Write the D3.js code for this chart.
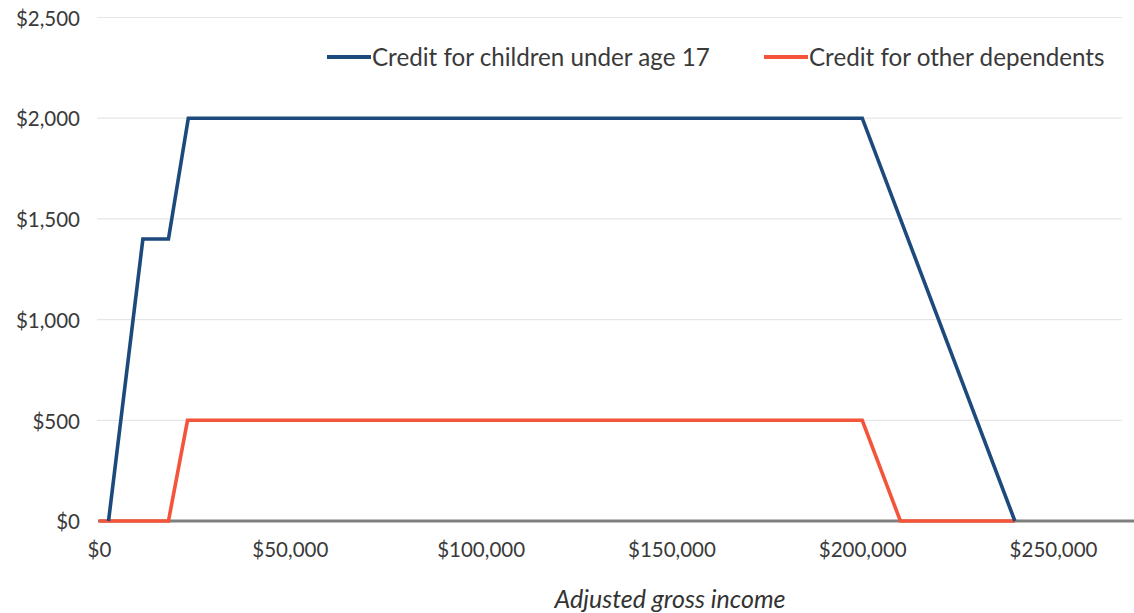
<!DOCTYPE html>
<html>
<head>
<meta charset="utf-8">
<script src="https://cdn.jsdelivr.net/npm/d3@7"></script>
<style>
  html, body { margin: 0; padding: 0; background: #fff; }
  svg { display: block; font-family: Lato, "Open Sans", sans-serif; }
</style>
</head>
<body>
<svg id="chart" width="1134" height="613"></svg>
<script>
// Credit amount by adjusted gross income
const childIncome = [2500, 11500, 18200, 23400, 200000, 240000];
const childCredit = [0, 1400, 1400, 2000, 2000, 0];
const otherIncome = [0, 18200, 23200, 200000, 210000, 240000];
const otherCredit = [0, 0, 500, 500, 0, 0];

const seriesNames = ["Credit for children under age 17", "Credit for other dependents"];
const seriesColors = ["#1d4a7c", "#f4553a"];

const yTicks = [0, 500, 1000, 1500, 2000, 2500];
const xTicks = [0, 50000, 100000, 150000, 200000, 250000];
const xTitle = "Adjusted gross income";

const svg = d3.select("#chart");

const x = d3.scaleLinear().domain([0, 272000]).range([99, 1137]);
const y = d3.scaleLinear().domain([0, 2500]).range([521, 17.5]);

const fmt = v => "$" + d3.format(",")(v);

// horizontal gridlines
svg.append("g")
  .selectAll("line")
  .data(yTicks.filter(d => d > 0))
  .join("line")
  .attr("x1", 97).attr("x2", 1122)
  .attr("y1", d => y(d)).attr("y2", d => y(d))
  .attr("stroke", "#e6e6e6")
  .attr("stroke-width", 1.2);

// y axis labels
const yAxis = d3.axisLeft(y).tickValues(yTicks).tickFormat(fmt).tickSize(0).tickPadding(0);
const gy = svg.append("g").attr("transform", "translate(80,0)").call(yAxis);
gy.select(".domain").remove();
gy.selectAll("text")
  .attr("font-size", 20.5)
  .attr("font-family", "Lato, sans-serif")
  .attr("fill", "#3a3a3a")
  .attr("dy", "0.38em");

// x axis baseline and labels
const xAxis = d3.axisBottom(x).tickValues(xTicks).tickFormat(fmt).tickSize(0).tickPadding(0);
const gx = svg.append("g").attr("transform", `translate(0,${y(0)})`).call(xAxis);
gx.select(".domain").remove();
gx.selectAll("text")
  .attr("font-size", 20.5)
  .attr("font-family", "Lato, sans-serif")
  .attr("fill", "#3a3a3a")
  .attr("dy", "1.75em");

svg.append("line")
  .attr("x1", x(0) - 1).attr("x2", 1134)
  .attr("y1", y(0)).attr("y2", y(0))
  .attr("stroke", "#7f7f7f")
  .attr("stroke-width", 3);

// axis title
svg.append("text")
  .attr("x", 670).attr("y", 608)
  .attr("text-anchor", "middle")
  .attr("font-size", 25)
  .attr("font-style", "italic")
  .attr("fill", "#333")
  .text(xTitle);

// series lines
const line = d3.line().x(d => x(d[0])).y(d => y(d[1]));
const series = [
  d3.zip(childIncome, childCredit),
  d3.zip(otherIncome, otherCredit)
];

svg.append("g")
  .selectAll("path")
  .data([series[1], series[0]])
  .join("path")
  .attr("d", line)
  .attr("fill", "none")
  .attr("stroke", (d, i) => seriesColors[1 - i])
  .attr("stroke-width", 3.6)
  .attr("stroke-linejoin", "miter");

// legend
const legendX = [327, 764];
const legend = svg.append("g")
  .selectAll("g")
  .data(seriesNames)
  .join("g")
  .attr("transform", (d, i) => `translate(${legendX[i]},57)`);
legend.append("line")
  .attr("x1", 0).attr("x2", 44)
  .attr("stroke", (d, i) => seriesColors[i])
  .attr("stroke-width", 4);
legend.append("text")
  .attr("x", 45).attr("dy", "0.36em")
  .attr("font-size", 24.2)
  .attr("fill", "#3a3a3a")
  .text(d => d);
</script>
</body>
</html>
